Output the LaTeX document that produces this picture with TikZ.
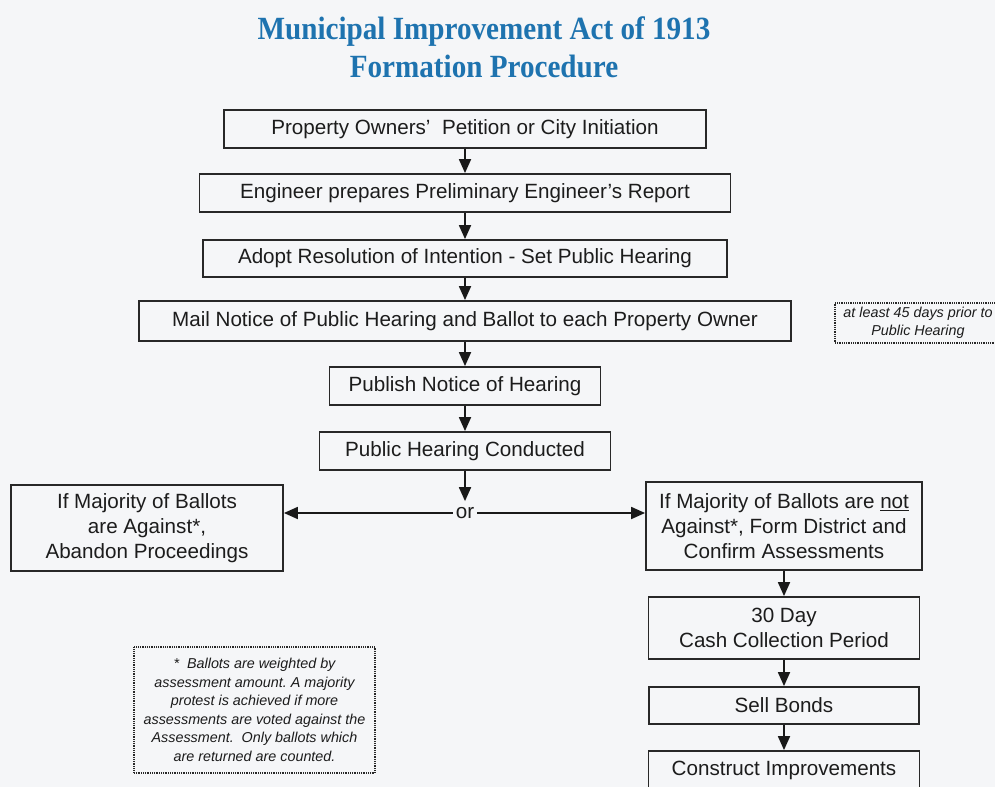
\documentclass[tikz,border=0pt]{standalone}
\usepackage{fontspec}
\setmainfont{Liberation Sans}
\newfontfamily\titlefont[FakeStretch=0.9]{Liberation Serif}
\usetikzlibrary{arrows.meta,calc}
\definecolor{bgc}{RGB}{245,246,248}
\definecolor{titleblue}{RGB}{30,115,175}
\definecolor{inkc}{RGB}{28,28,28}
\definecolor{linec}{RGB}{40,40,40}
\frenchspacing
\begin{document}
\begin{tikzpicture}[x=1bp,y=-1bp,
  box/.style={draw=linec, line width=1.8bp, inner sep=0pt, align=center, text=inkc, font=\fontsize{20.7}{25}\selectfont},
  notebox/.style={draw=linec, line width=1.2bp, dash pattern=on 1bp off 0.8bp, inner sep=0pt, align=center, text=inkc, font=\fontsize{14.4}{18.6}\selectfont\itshape},
  flow/.style={draw=black!90, line width=1.8bp, -{Triangle[width=12bp,length=14bp]}},
  ttl/.style={text=titleblue, font=\titlefont\bfseries\fontsize{32.5}{36}\selectfont, anchor=base, inner sep=0pt}
]
\fill[bgc] (0,0) rectangle (995,787);
\useasboundingbox (0,0) rectangle (995,787);

% titles
\node[ttl] (t1) at (484,40) {Municipal Improvement Act of 1913};
\node[ttl] (t2) at (484,78) {Formation Procedure};

% main column
\node[box, minimum width=482bp, minimum height=38bp] (b1) at (465,129) {Property Owners'~ Petition or City Initiation};
\node[box, minimum width=531bp, minimum height=38bp] (b2) at (465,193) {Engineer prepares Preliminary Engineer's Report};
\node[box, minimum width=524bp, minimum height=37bp] (b3) at (465,258.5) {Adopt Resolution of Intention - Set Public Hearing};
\node[box, minimum width=652bp, minimum height=40bp] (b4) at (465,321) {Mail Notice of Public Hearing and Ballot to each Property Owner};
\node[box, minimum width=271bp, minimum height=38bp] (b5) at (465,386) {Publish Notice of Hearing};
\node[box, minimum width=291bp, minimum height=38bp] (b6) at (465,451) {Public Hearing Conducted};

\node[inner xsep=3bp, inner ysep=6bp, text=inkc, font=\fontsize{20.7}{25}\selectfont] (or) at (465,513) {or};

% side boxes
\node[box, minimum width=272bp, minimum height=86bp] (left) at (147,528) {If Majority of Ballots\\are Against*,\\Abandon Proceedings};
\node[box, minimum width=276bp, minimum height=88bp] (right) at (784,526) {If Majority of Ballots are \underline{not}\\Against*, Form District and\\Confirm Assessments};

% right column
\node[box, minimum width=271bp, minimum height=62bp] (c1) at (784,628) {30 Day\\Cash Collection Period};
\node[box, minimum width=270bp, minimum height=37bp] (c2) at (784,705.5) {Sell Bonds};
\node[box, minimum width=271bp, minimum height=38bp] (c3) at (784,770) {Construct Improvements};

% notes
\node[notebox, minimum width=166bp, minimum height=40bp] (n1) at (918,323) {at least 45 days prior to\\Public Hearing};
\node[notebox, minimum width=241bp, minimum height=126bp] (n2) at (254.5,710) {*~ Ballots are weighted by\\assessment amount. A majority\\protest is achieved if more\\assessments are voted against the\\Assessment.~ Only ballots which\\are returned are counted.};

% connectors
\draw[flow] (b1) -- (b2);
\draw[flow] (b2) -- (b3);
\draw[flow] (b3) -- (b4);
\draw[flow] (b4) -- (b5);
\draw[flow] (b5) -- (b6);
\draw[flow] (b6) -- (or);
\draw[flow] (or.west) -- (or.west -| left.east);
\draw[flow] (or.east) -- (or.east -| right.west);
\draw[flow] (right) -- (c1);
\draw[flow] (c1) -- (c2);
\draw[flow] (c2) -- (c3);
\end{tikzpicture}
\end{document}
